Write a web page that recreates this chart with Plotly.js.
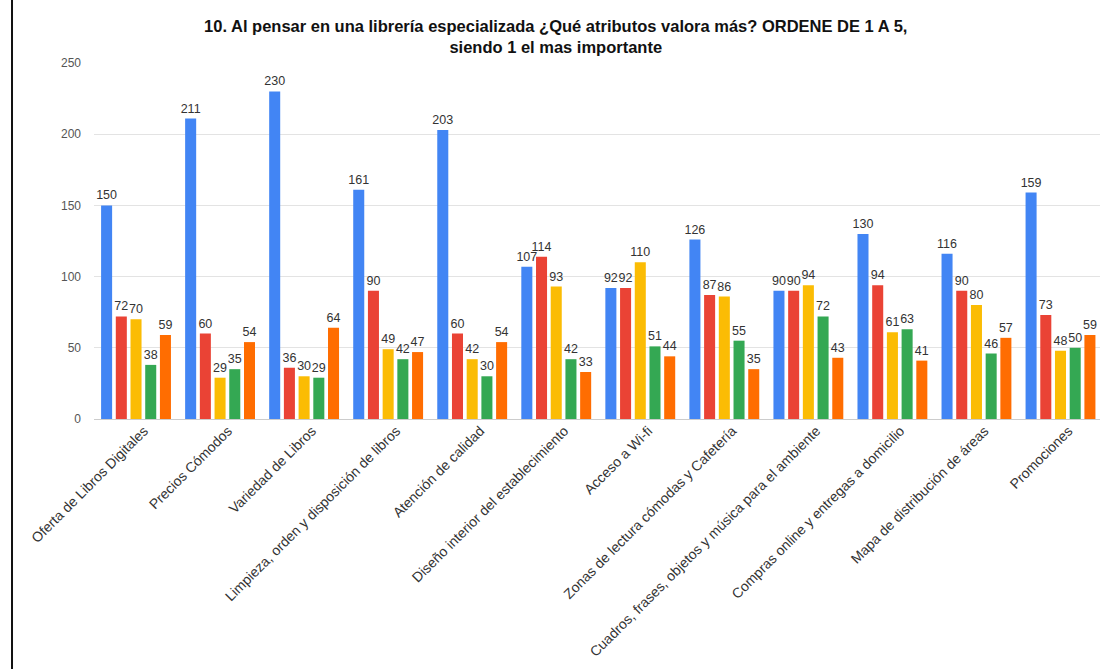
<!DOCTYPE html>
<html>
<head>
<meta charset="utf-8">
<script src="https://cdn.plot.ly/plotly-3.0.1.min.js"></script>
<style>html,body{margin:0;padding:0;background:#fff;}#chart{width:1100px;height:669px;}</style>
</head>
<body>
<div id="chart"></div>
<script>
const categories = [
  "Oferta de Libros Digitales",
  "Precios Cómodos",
  "Variedad de Libros",
  "Limpieza, orden y disposición de libros",
  "Atención de calidad",
  "Diseño interior del establecimiento",
  "Acceso a Wi-fi",
  "Zonas de lectura cómodas y Cafetería",
  "Cuadros, frases, objetos y música para el ambiente",
  "Compras online y entregas a domicilio",
  "Mapa de distribución de áreas",
  "Promociones"
];
const rank1 = [150, 211, 230, 161, 203, 107, 92, 126, 90, 130, 116, 159];
const rank2 = [72, 60, 36, 90, 60, 114, 92, 87, 90, 94, 90, 73];
const rank3 = [70, 29, 30, 49, 42, 93, 110, 86, 94, 61, 80, 48];
const rank4 = [38, 35, 29, 42, 30, 42, 51, 55, 72, 63, 46, 50];
const rank5 = [59, 54, 64, 47, 54, 33, 44, 35, 43, 41, 57, 59];
const seriesNames = ["1", "2", "3", "4", "5"];
const seriesColors = ["#4285F4", "#EA4335", "#FBBC04", "#34A853", "#FF6D01"];
const yTicks = [0, 50, 100, 150, 200, 250];

const FONT = "Liberation Sans, Arial, sans-serif";
const allSeries = [rank1, rank2, rank3, rank4, rank5];
const traces = allSeries.map((vals, i) => ({
  type: "bar",
  name: seriesNames[i],
  x: categories,
  y: vals,
  text: vals.map(String),
  textposition: "outside",
  constraintext: "none",
  cliponaxis: false,
  textfont: {family: FONT, size: 12.5, color: "#333333"},
  marker: {color: seriesColors[i]},
  hoverinfo: "x+y"
}));

const layout = {
  width: 1100,
  height: 669,
  paper_bgcolor: "#ffffff",
  plot_bgcolor: "#ffffff",
  margin: {l: 94, r: 0, t: 63, b: 250},
  showlegend: false,
  barmode: "group",
  bargap: 0.125,
  bargroupgap: 0.25,
  font: {family: FONT, color: "#333"},
  title: {
    text: "<b>10. Al pensar en una librería especializada ¿Qué atributos valora más? ORDENE DE 1 A 5,<br>siendo 1 el mas importante</b>",
    font: {family: FONT, size: 16.5, color: "#111"},
    x: 0.459, xref: "paper", xanchor: "center",
    y: 1.101, yref: "paper", yanchor: "middle"
  },
  xaxis: {
    type: "category",
    range: [-0.5, 11.47],
    tickangle: -45,
    tickfont: {family: FONT, size: 14, color: "#333"},
    ticklabelshift: 8,
    showgrid: false,
    showline: false,
    ticks: "",
    automargin: false
  },
  yaxis: {
    range: [0, 250],
    tickvals: yTicks,
    ticktext: yTicks.map(String),
    tickfont: {family: FONT, size: 12, color: "#555"},
    showgrid: true,
    gridcolor: "#e3e3e3",
    gridwidth: 1,
    zeroline: true,
    zerolinecolor: "#cccccc",
    ticklabelstandoff: 12,
    showline: false,
    automargin: false
  },
  shapes: [
    {type: "line", xref: "paper", yref: "paper", x0: -0.0815, x1: -0.0815, y0: -0.71, y1: 1.2,
     line: {color: "#111", width: 2}}
  ]
};

Plotly.newPlot("chart", traces, layout, {displayModeBar: false, staticPlot: true});
</script>
</body>
</html>
